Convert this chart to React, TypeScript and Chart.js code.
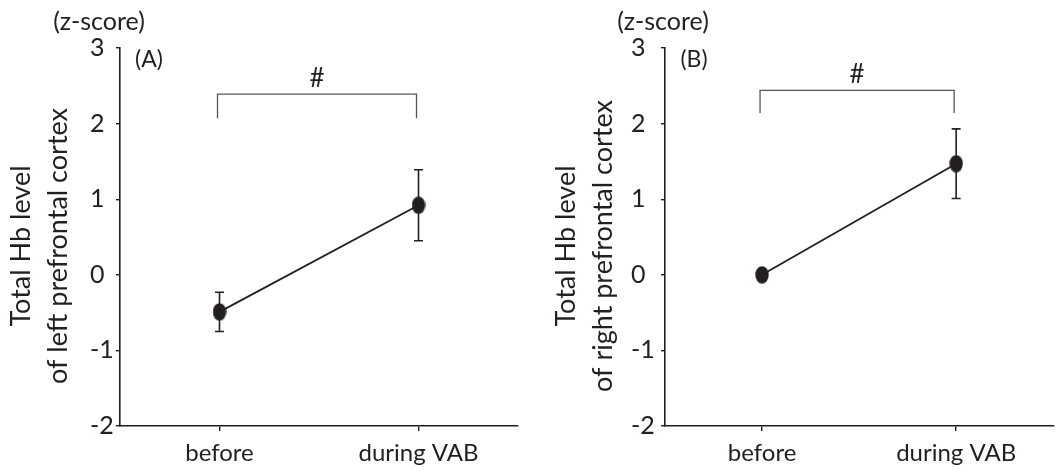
import React, { useEffect, useRef } from "react";
import { Chart, registerables } from "chart.js";

Chart.register(...registerables);

// Data
const categories = ["before", "during VAB"];
const yMin = -2;
const yMax = 3;
const leftMeans = [-0.49, 0.92];
const leftErrors = [0.26, 0.47];
const rightMeans = [0.0, 1.47];
const rightErrors = [0.0, 0.46];
// significance bracket: [leg end, bar level]
const leftBracket = [2.07, 2.39];
const rightBracket = [2.14, 2.44];
const leftTitle = ["Total Hb level", "of left prefrontal cortex"];
const rightTitle = ["Total Hb level", "of right prefrontal cortex"];
const unitLabel = "(z-score)";
const sigMark = "#";

const INK = "#231f20";
const FONT = "Lato, 'Open Sans', sans-serif";

function ellipseMarker(w: number, h: number, color: string) {
  const c = document.createElement("canvas");
  c.width = w;
  c.height = h;
  const ctx = c.getContext("2d")!;
  ctx.fillStyle = color;
  ctx.beginPath();
  ctx.ellipse(w / 2, h / 2, w / 2 - 0.3, h / 2 - 0.3, 0, 0, Math.PI * 2);
  ctx.fill();
  return c;
}

type PanelProps = {
  means: number[];
  errors: number[];
  bracket: number[];
  letter: string;
  title: string[];
  unitOffset: number;
  left: number;
  width: number;
  padLeft: number;
  padRight: number;
};

// y-axis box ends where the plot area begins, 120px into each canvas
const AXIS_EDGE = 120;

function Panel(p: PanelProps) {
  const ref = useRef<HTMLCanvasElement | null>(null);

  useEffect(() => {
    if (!ref.current) return;

    const errorBars = {
      id: "errorBars",
      beforeDatasetsDraw(chart: any) {
        const ctx = chart.ctx;
        const meta = chart.getDatasetMeta(0);
        const y = chart.scales.y;
        ctx.save();
        ctx.strokeStyle = INK;
        ctx.lineWidth = 1.6;
        meta.data.forEach((pt: any, i: number) => {
          const e = p.errors[i];
          if (!e) return;
          const x = pt.x;
          const yt = y.getPixelForValue(p.means[i] + e);
          const yb = y.getPixelForValue(p.means[i] - e);
          ctx.beginPath();
          ctx.moveTo(x, yt);
          ctx.lineTo(x, yb);
          ctx.moveTo(x - 4.5, yt);
          ctx.lineTo(x + 4.5, yt);
          ctx.moveTo(x - 4.5, yb);
          ctx.lineTo(x + 4.5, yb);
          ctx.stroke();
        });
        ctx.restore();
      },
    };

    const annotations = {
      id: "annotations",
      afterDraw(chart: any) {
        const ctx = chart.ctx;
        const area = chart.chartArea;
        const x = chart.scales.x;
        const y = chart.scales.y;
        ctx.save();
        ctx.fillStyle = INK;

        // axis title, two lines, rotated
        ctx.font = `27px ${FONT}`;
        ctx.textAlign = "center";
        ctx.textBaseline = "middle";
        const cy = (area.top + area.bottom) / 2 + 9;
        const lineX = [area.left - 99, area.left - 62];
        p.title.forEach((t, i) => {
          ctx.save();
          ctx.translate(lineX[i], cy);
          ctx.rotate(-Math.PI / 2);
          ctx.fillText(t, 0, 0);
          ctx.restore();
        });

        // unit label
        ctx.font = `25px ${FONT}`;
        ctx.fillText(unitLabel, area.left - p.unitOffset, 22);

        // panel letter
        ctx.font = `23px ${FONT}`;
        ctx.fillText(p.letter, area.left + 29, 60);

        // significance bracket
        const x0 = x.getPixelForValue(0) - 2;
        const x1 = x.getPixelForValue(1) - 2;
        const yb = y.getPixelForValue(p.bracket[0]);
        const yt = y.getPixelForValue(p.bracket[1]);
        ctx.strokeStyle = "#555";
        ctx.lineWidth = 1.3;
        ctx.beginPath();
        ctx.moveTo(x0, yb);
        ctx.lineTo(x0, yt);
        ctx.lineTo(x1, yt);
        ctx.lineTo(x1, yb);
        ctx.stroke();
        ctx.font = `26px ${FONT}`;
        ctx.fillText(sigMark, (x0 + x1) / 2, yt - 16);
        ctx.restore();
      },
    };

    const chart = new Chart(ref.current, {
      type: "line",
      data: {
        labels: categories,
        datasets: [
          {
            data: p.means,
            borderColor: INK,
            borderWidth: 1.8,
            pointStyle: ellipseMarker(14, 18, INK) as any,
            pointRadius: 8,
            pointHoverRadius: 8,
            fill: false,
          },
        ],
      },
      options: {
        animation: false,
        responsive: false,
        maintainAspectRatio: false,
        events: [],
        layout: { padding: { top: 48, right: p.padRight, left: p.padLeft, bottom: 0 } },
        plugins: { legend: { display: false }, tooltip: { enabled: false } },
        scales: {
          x: {
            type: "category",
            offset: true,
            border: { display: true, color: INK, width: 1.6 },
            grid: {
              drawOnChartArea: false,
              drawTicks: true,
              tickLength: 5,
              color: INK,
              lineWidth: 1.4,
            },
            ticks: {
              color: INK,
              font: { family: FONT, size: 24 },
              padding: 8,
              maxRotation: 0,
            },
            afterFit(scale: any) {
              scale.height = 47;
            },
          },
          y: {
            min: yMin,
            max: yMax,
            border: { display: true, color: INK, width: 1.6 },
            grid: {
              drawOnChartArea: false,
              drawTicks: true,
              tickLength: 4,
              color: INK,
              lineWidth: 1.4,
            },
            ticks: {
              stepSize: 1,
              color: INK,
              font: { family: FONT, size: 25 },
              crossAlign: "far",
              padding: 6,
            },
            afterFit(scale: any) {
              scale.width = AXIS_EDGE - p.padLeft;
            },
          },
        },
      },
      plugins: [errorBars, annotations],
    });

    return () => chart.destroy();
  }, []);

  return (
    <canvas
      ref={ref}
      width={p.width}
      height={473}
      style={{ position: "absolute", left: p.left, top: 0, width: p.width, height: 473 }}
    />
  );
}

export default function App() {
  return (
    <div
      style={{
        position: "fixed",
        left: 0,
        top: 0,
        width: 1063,
        height: 473,
        overflow: "hidden",
        background: "#fff",
      }}
    >
      <Panel
        means={leftMeans}
        errors={leftErrors}
        bracket={leftBracket}
        letter="(A)"
        title={leftTitle}
        unitOffset={21}
        left={0}
        width={540}
        padLeft={90}
        padRight={22}
      />
      <Panel
        means={rightMeans}
        errors={rightErrors}
        bracket={rightBracket}
        letter="(B)"
        title={rightTitle}
        unitOffset={2}
        left={545}
        width={518}
        padLeft={86}
        padRight={0}
      />
    </div>
  );
}
